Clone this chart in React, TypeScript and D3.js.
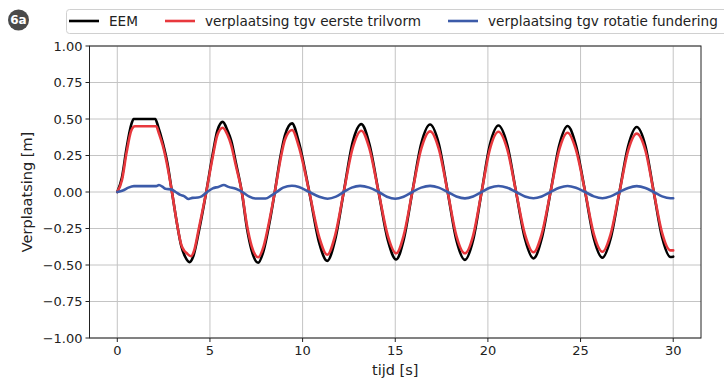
import * as d3 from "d3";

// tijd [s], verplaatsing [m]
const eemData: [number, number][] = [
  [0, 0], [0.25, 0.1], [0.5, 0.3], [0.75, 0.46], [0.88, 0.5], [2.05, 0.5], [2.2, 0.45],
  [2.45, 0.34], [2.7, 0.2], [2.95, 0], [3.2, -0.2], [3.45, -0.37], [3.65, -0.44], [3.9, -0.48],
  [4.1, -0.44], [4.4, -0.27], [4.8, 0], [5.15, 0.26], [5.4, 0.42], [5.69, 0.48], [5.95, 0.42],
  [6.15, 0.35], [6.4, 0.2], [6.72, 0], [7.0, -0.25], [7.25, -0.4], [7.6, -0.485], [7.9, -0.4],
  [8.2, -0.22], [8.5, 0], [8.8, 0.24], [9.05, 0.39], [9.43, 0.47], [9.8, 0.34], [10.36, 0],
  [10.9, -0.35], [11.33, -0.472], [11.75, -0.33], [12.22, 0], [12.7, 0.34], [13.17, 0.465],
  [13.6, 0.33], [14.1, 0], [14.6, -0.33], [15.05, -0.462], [15.45, -0.33], [15.92, 0],
  [16.4, 0.33], [16.88, 0.462], [17.35, 0.33], [17.83, 0], [18.3, -0.33], [18.76, -0.465],
  [19.2, -0.33], [19.66, 0], [20.1, 0.32], [20.57, 0.455], [21.05, 0.32], [21.52, 0],
  [22.0, -0.32], [22.46, -0.455], [22.9, -0.32], [23.38, 0], [23.85, 0.32], [24.3, 0.452],
  [24.75, 0.32], [25.25, 0], [25.72, -0.32], [26.18, -0.45], [26.62, -0.32], [27.1, 0],
  [27.57, 0.315], [28.03, 0.445], [28.5, 0.315], [28.95, 0], [29.4, -0.31], [29.85, -0.445],
  [30, -0.443],
];

const trilvormData: [number, number][] = [
  [0, 0], [0.25, 0.08], [0.5, 0.27], [0.75, 0.42], [0.95, 0.45], [2.1, 0.45], [2.25, 0.4],
  [2.45, 0.32], [2.7, 0.18], [2.95, 0], [3.2, -0.2], [3.45, -0.36], [3.6, -0.4], [3.75, -0.42],
  [3.97, -0.44], [4.15, -0.4], [4.4, -0.25], [4.8, 0], [5.15, 0.24], [5.4, 0.39], [5.69, 0.44],
  [5.95, 0.39], [6.15, 0.32], [6.4, 0.18], [6.72, 0], [7.0, -0.23], [7.25, -0.37], [7.6, -0.447],
  [7.9, -0.37], [8.2, -0.2], [8.5, 0], [8.8, 0.22], [9.05, 0.36], [9.43, 0.425], [9.8, 0.31],
  [10.36, 0], [10.9, -0.31], [11.33, -0.43], [11.75, -0.3], [12.22, 0], [12.7, 0.3],
  [13.17, 0.42], [13.6, 0.3], [14.1, 0], [14.6, -0.3], [15.05, -0.42], [15.45, -0.3],
  [15.92, 0], [16.4, 0.295], [16.88, 0.415], [17.35, 0.295], [17.83, 0], [18.3, -0.3],
  [18.76, -0.42], [19.2, -0.3], [19.66, 0], [20.1, 0.29], [20.57, 0.413], [21.05, 0.29],
  [21.52, 0], [22.0, -0.29], [22.46, -0.413], [22.9, -0.29], [23.38, 0], [23.85, 0.29],
  [24.3, 0.406], [24.75, 0.29], [25.25, 0], [25.72, -0.29], [26.18, -0.409], [26.62, -0.29],
  [27.1, 0], [27.57, 0.285], [28.03, 0.4], [28.5, 0.285], [28.95, 0], [29.4, -0.28],
  [29.85, -0.4], [30, -0.4],
];

const rotatieData: [number, number][] = [
  [0, 0], [0.3, 0.01], [0.6, 0.03], [0.9, 0.04], [2.1, 0.04], [2.25, 0.048], [2.45, 0.035],
  [2.6, 0.022], [2.9, 0.018], [3.15, 0], [3.4, -0.02], [3.6, -0.028], [3.85, -0.048],
  [4.05, -0.04], [4.35, -0.038], [4.55, -0.03], [4.85, 0], [5.15, 0.025], [5.45, 0.035],
  [5.75, 0.048], [6.0, 0.035], [6.4, 0.022], [6.75, 0], [7.1, -0.03], [7.45, -0.045],
  [8.0, -0.045], [8.3, -0.025], [8.6, 0], [8.95, 0.03], [9.42, 0.043], [9.8, 0.035],
  [10.36, 0], [10.9, -0.032], [11.35, -0.046], [11.8, -0.032], [12.22, 0], [12.65, 0.03],
  [13.1, 0.042], [13.6, 0.03], [14.1, 0], [14.55, -0.032], [15.0, -0.046], [15.45, -0.032],
  [15.92, 0], [16.4, 0.03], [16.88, 0.042], [17.35, 0.03], [17.83, 0], [18.3, -0.031],
  [18.76, -0.044], [19.2, -0.031], [19.66, 0], [20.1, 0.029], [20.57, 0.041], [21.05, 0.029],
  [21.52, 0], [22.0, -0.031], [22.46, -0.043], [22.9, -0.031], [23.38, 0], [23.85, 0.029],
  [24.3, 0.041], [24.75, 0.029], [25.25, 0], [25.72, -0.03], [26.18, -0.043], [26.62, -0.03],
  [27.1, 0], [27.57, 0.028], [28.03, 0.04], [28.5, 0.028], [28.95, 0], [29.4, -0.03],
  [29.85, -0.043], [30, -0.043],
];

const xTicks = [0, 5, 10, 15, 20, 25, 30];
const yTicks = [-1, -0.75, -0.5, -0.25, 0, 0.25, 0.5, 0.75, 1];

const series = [
  { label: "EEM", data: eemData, color: "#000000", legendX: 69 },
  { label: "verplaatsing tgv eerste trilvorm", data: trilvormData, color: "#e8383d", legendX: 165 },
  { label: "verplaatsing tgv rotatie fundering", data: rotatieData, color: "#3c5ba9", legendX: 448 },
];

const W = 724;
const H = 379;
const FONT = "'DejaVu Sans', sans-serif";

export default function App() {
  const x = d3.scaleLinear().domain([-1.5, 31.5]).range([89.5, 701]);
  const y = d3.scaleLinear().domain([-1, 1]).range([338, 46]);
  const line = d3
    .line<[number, number]>()
    .x((d) => x(d[0]))
    .y((d) => y(d[1]))
    .curve(d3.curveMonotoneX);
  const fmtY = (v: number) => d3.format(".2f")(v).replace("-", "\u2212");

  const [x0, x1] = x.range();
  const [yb, yt] = y.range();

  return (
    <div style={{ position: "absolute", left: 0, top: 0 }}>
      <svg width={W} height={H} style={{ display: "block", fontFamily: FONT }}>
        <rect width={W} height={H} fill="#fff" />

        {/* badge */}
        <circle cx={18.5} cy={20} r={10.5} fill="#4a4a4a" />
        <text x={18.5} y={20} dy="0.36em" textAnchor="middle" fill="#fff" fontSize={12} fontWeight="bold">
          6a
        </text>

        {/* grid */}
        <g stroke="#c4c4c4" strokeWidth={1}>
          {xTicks.map((t) => (
            <line key={`gx${t}`} x1={x(t)} x2={x(t)} y1={yt} y2={yb} />
          ))}
          {yTicks.map((t) => (
            <line key={`gy${t}`} x1={x0} x2={x1} y1={y(t)} y2={y(t)} />
          ))}
        </g>

        {/* lines */}
        <g fill="none" strokeWidth={2.6} strokeLinejoin="round" strokeLinecap="round">
          {series.map((s) => (
            <path key={s.label} d={line(s.data) ?? ""} stroke={s.color} />
          ))}
        </g>

        {/* frame */}
        <rect x={x0} y={yt} width={x1 - x0} height={yb - yt} fill="none" stroke="#222" strokeWidth={1} />

        {/* x axis */}
        <g fontSize={13} fill="#222" textAnchor="middle">
          {xTicks.map((t) => (
            <g key={`tx${t}`}>
              <line x1={x(t)} x2={x(t)} y1={yb} y2={yb + 4} stroke="#222" />
              <text x={x(t)} y={yb + 8} dy="0.71em">
                {t}
              </text>
            </g>
          ))}
          <text x={(x0 + x1) / 2} y={370} dy="0.35em" fontSize={14.5}>
            tijd [s]
          </text>
        </g>

        {/* y axis */}
        <g fontSize={13} fill="#222">
          {yTicks.map((t) => (
            <g key={`ty${t}`}>
              <line x1={x0 - 4} x2={x0} y1={y(t)} y2={y(t)} stroke="#222" />
              <text x={x0 - 7} y={y(t)} dy="0.35em" textAnchor="end">
                {fmtY(t)}
              </text>
            </g>
          ))}
          <text
            transform={`translate(27,${(yt + yb) / 2}) rotate(-90)`}
            textAnchor="middle"
            dy="0.35em"
            fontSize={14.5}
          >
            Verplaatsing [m]
          </text>
        </g>

        {/* legend */}
        <rect x={66.5} y={9.5} width={700} height={24} rx={3} fill="#fff" stroke="#d0d0d0" />
        <g fontSize={13.6} fill="#222">
          {series.map((s) => (
            <g key={`lg${s.label}`}>
              <line x1={s.legendX} x2={s.legendX + 30} y1={21} y2={21} stroke={s.color} strokeWidth={2.6} />
              <text x={s.legendX + 40} y={21} dy="0.35em">
                {s.label}
              </text>
            </g>
          ))}
        </g>
      </svg>
    </div>
  );
}
